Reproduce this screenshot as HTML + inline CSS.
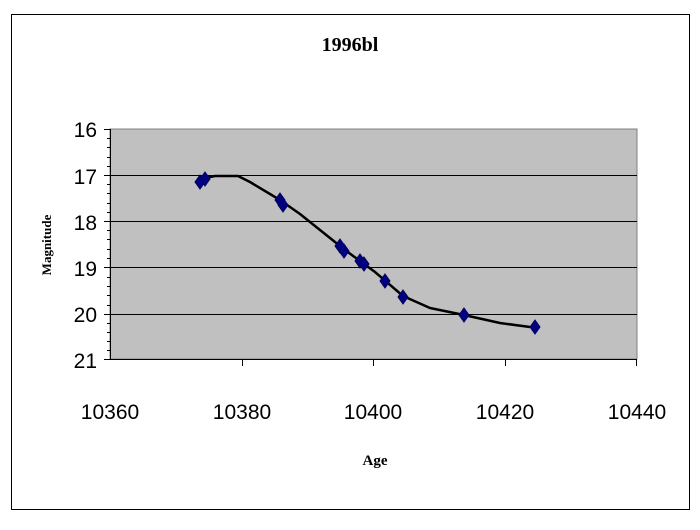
<!DOCTYPE html>
<html><head><style>body{margin:0;background:#fff}</style></head><body>
<svg width="700" height="525" xmlns="http://www.w3.org/2000/svg">
<rect x="0" y="0" width="700" height="525" fill="#fff"/>
<rect x="11.5" y="14.5" width="678" height="495" fill="none" stroke="#000" stroke-width="1"/>
<text x="350" y="51" font-family="Liberation Serif" font-weight="bold" font-size="20" text-anchor="middle">1996bl</text>
<rect x="110" y="129" width="527" height="230" fill="#c0c0c0" stroke="#808080" stroke-width="1"/>
<g stroke="#000" stroke-width="1">
<line x1="110" y1="175.5" x2="637" y2="175.5"/>
<line x1="110" y1="221.5" x2="637" y2="221.5"/>
<line x1="110" y1="267.5" x2="637" y2="267.5"/>
<line x1="110" y1="314.5" x2="637" y2="314.5"/>
</g>
<g stroke="#000" stroke-width="1">
<line x1="110.5" y1="129" x2="110.5" y2="359"/>
<line x1="110" y1="359.5" x2="637" y2="359.5"/>
<line x1="104" y1="129.5" x2="110" y2="129.5"/>
<line x1="104" y1="175.5" x2="110" y2="175.5"/>
<line x1="104" y1="221.5" x2="110" y2="221.5"/>
<line x1="104" y1="267.5" x2="110" y2="267.5"/>
<line x1="104" y1="314.5" x2="110" y2="314.5"/>
<line x1="104" y1="359.5" x2="110" y2="359.5"/>
<line x1="242.5" y1="359" x2="242.5" y2="366"/>
<line x1="373.5" y1="359" x2="373.5" y2="366"/>
<line x1="505.5" y1="359" x2="505.5" y2="366"/>
<line x1="636.5" y1="359" x2="636.5" y2="366"/>
</g>
<g stroke="#000" stroke-width="1">
<path d="M107 138.5h3M107 147.5h3M107 157.5h3M107 166.5h3M107 184.5h3M107 193.5h3M107 203.5h3M107 212.5h3M107 230.5h3M107 239.5h3M107 249.5h3M107 258.5h3M107 277.5h3M107 286.5h3M107 295.5h3M107 305.5h3M107 323.5h3M107 332.5h3M107 341.5h3M107 350.5h3"/>
</g>
<g font-family="Liberation Sans" font-size="21" text-anchor="end">
<text x="97" y="137">16</text><text x="97" y="184">17</text><text x="97" y="230">18</text>
<text x="97" y="276">19</text><text x="97" y="322">20</text><text x="97" y="368">21</text>
</g>
<g font-family="Liberation Sans" font-size="21" text-anchor="middle">
<text x="110" y="419">10360</text><text x="242" y="419">10380</text><text x="373" y="419">10400</text>
<text x="505" y="419">10420</text><text x="637" y="419">10440</text>
</g>
<text x="375" y="465" font-family="Liberation Serif" font-weight="bold" font-size="15" text-anchor="middle">Age</text>
<text transform="translate(51,245) rotate(-90)" font-family="Liberation Serif" font-weight="bold" font-size="13" text-anchor="middle">Magnitude</text>
<path d="M205 178 L215 176 L238 176 L250 182 L280 200 L300 214 L320 230 L345 250 L375 272 L403 296 L430 308 L464 315 L500 323 L530 327" fill="none" stroke="#000" stroke-width="2.5" stroke-linejoin="round"/>
<g fill="#000080" stroke="#000060" stroke-width="1">
<path d="M200 175l5 7-5 7-5-7z"/><path d="M205 172l5 7-5 7-5-7z"/>
<path d="M280 193l5 7-5 7-5-7z"/><path d="M283 198l5 7-5 7-5-7z"/>
<path d="M340 239l5 7-5 7-5-7z"/><path d="M344 244l5 7-5 7-5-7z"/>
<path d="M360 254l5 7-5 7-5-7z"/><path d="M364 257l5 7-5 7-5-7z"/>
<path d="M385 274l5 7-5 7-5-7z"/><path d="M403 290l5 7-5 7-5-7z"/>
<path d="M464 308l5 7-5 7-5-7z"/><path d="M535 320l5 7-5 7-5-7z"/>
</g>
</svg>
</body></html>
